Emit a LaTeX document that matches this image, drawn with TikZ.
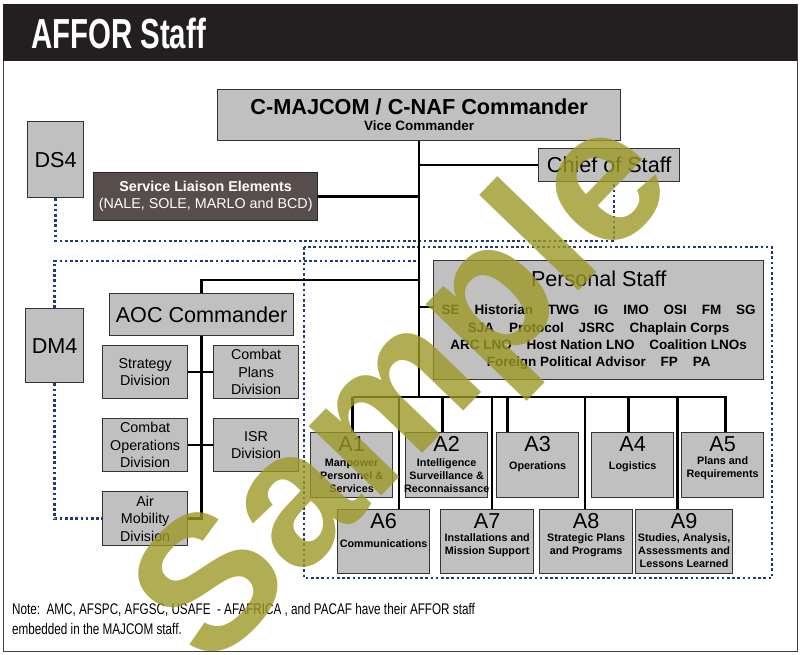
\documentclass[tikz,border=0pt]{standalone}
\usepackage{fontspec}
\setmainfont{Liberation Sans}
\newfontfamily\titlefont{Liberation Sans}[FakeStretch=0.7]
\newfontfamily\notefont{Liberation Sans}[FakeStretch=0.76]
\usepackage{xcolor}
\definecolor{boxgray}{RGB}{192,192,192}
\definecolor{liaison}{RGB}{87,78,75}
\definecolor{navy}{RGB}{30,60,115}
\definecolor{stamp}{RGB}{156,152,39}
\definecolor{barblack}{RGB}{35,31,32}
\usetikzlibrary{positioning,calc}
\newcommand\Anum[1]{{\fontsize{21.6}{13}\selectfont\mdseries #1}}
\newcommand\psgap{\hspace{1.1em}}

\begin{document}
\begin{tikzpicture}[x=1pt, y=-1pt,
  box/.style={draw=black!80, fill=boxgray, line width=1.3pt, inner sep=2pt, align=center, anchor=north west},
  big/.style={font=\fontsize{21.6}{24}\selectfont},
  div/.style={box, minimum width=85, minimum height=53, font=\fontsize{14.3}{17.5}\selectfont},
  abox/.style={box, minimum width=82, minimum height=65},
  anum/.style={label={[anchor=north, align=center, inner sep=0pt, yshift=-4.5pt, font=\fontsize{10.8}{13}\selectfont\bfseries]north:{#1}}},
  link/.style={line width=2.6pt},
  dotline/.style={navy, line width=2.6pt, dash pattern=on 2.6pt off 2.6pt}]
\useasboundingbox (0,0) rectangle (800,654);
\draw[black!75, line width=1pt] (3,4) rectangle (797,651);
\fill[barblack] (3,4) rectangle (797,61);
\node[anchor=base west, inner sep=0pt, text=white, font=\titlefont\bfseries\fontsize{42}{42}\selectfont] (title) at (31,48) {AFFOR Staff};

\node[box, minimum width=403, minimum height=51, font=\fontsize{13.5}{16}\selectfont\bfseries] (cmd) at (217,89) {{\fontsize{21.7}{16}\selectfont C-MAJCOM / C-NAF Commander}\\Vice Commander};
\node[box, big, minimum width=141, minimum height=33] (cos) at (538,148) {Chief of Staff};
\node[box, big, minimum width=56, minimum height=76] (ds4) at (27,121) {DS4};
\node[box, fill=liaison, draw=black!85, text=white, minimum width=224, minimum height=48, font=\fontsize{14.3}{17}\selectfont] (sle) at (93,172) {\textbf{Service Liaison Elements}\\(NALE, SOLE, MARLO and BCD)};
\node[box, big, minimum width=58, minimum height=74] (dm4) at (25,308) {DM4};
\node[box, big, minimum width=184, minimum height=42] (aoc) at (109,293) {AOC Commander};
\node[div] (strat) at (102,345) {Strategy\\Division};
\node[div] (plans) at (213,345) {Combat\\Plans\\Division};
\node[div] (ops) at (102,418) {Combat\\Operations\\Division};
\node[div] (isr) at (213,418) {ISR\\Division};
\node[div, minimum height=54] (air) at (102,491) {Air\\Mobility\\Division};

\node[box, minimum width=330, minimum height=119, font=\fontsize{13.5}{17.3}\selectfont\bfseries] (ps) at (433,260) {{\fontsize{21.6}{17.3}\selectfont\mdseries Personal Staff}\\[11pt]
  SE\psgap Historian\psgap TWG\psgap IG\psgap IMO\psgap OSI\psgap FM\psgap SG\\
  SJA\psgap Protocol\psgap JSRC\psgap Chaplain Corps\\
  ARC LNO\psgap Host Nation LNO\psgap Coalition LNOs\\
  Foreign Political Advisor\psgap FP\psgap PA};

\node[abox, anum={\Anum{A1}\\[1.5pt]Manpower\\Personnel \&\\Services}] (a1) at (310,432) {};
\node[abox, anum={\Anum{A2}\\[1.5pt]Intelligence\\Surveillance \&\\Reconnaissance}] (a2) at (405,432) {};
\node[abox, anum={\Anum{A3}\\[5pt]Operations}] (a3) at (496,432) {};
\node[abox, anum={\Anum{A4}\\[5pt]Logistics}] (a4) at (591,432) {};
\node[abox, anum={\Anum{A5}\\Plans and\\Requirements}] (a5) at (681,432) {};
\node[abox, minimum width=92, minimum height=64, anum={\Anum{A6}\\[6pt]Communications}] (a6) at (337,509) {};
\node[abox, minimum width=93, minimum height=64, anum={\Anum{A7}\\Installations and\\Mission Support}] (a7) at (440,509) {};
\node[abox, minimum width=93, minimum height=64, anum={\Anum{A8}\\Strategic Plans\\and Programs}] (a8) at (539,509) {};
\node[abox, minimum width=97, minimum height=64, anum={\Anum{A9}\\Studies, Analysis,\\Assessments and\\Lessons Learned}] (a9) at (635,509) {};

\node[anchor=north west, inner sep=0pt, align=left, font=\notefont\fontsize{15.4}{20}\selectfont] (note) at (12,603) {Note:\ \ AMC, AFSPC, AFGSC, USAFE\ \ - AFAFRICA , and PACAF have their AFFOR staff\\embedded in the MAJCOM staff.};

\coordinate (dsline) at (0,241);
\coordinate (dmline) at (0,261);
\coordinate (aocin) at (0,280);
\coordinate (psin) at (0,307);
\coordinate (bus) at (0,397);

\draw[dotline] (ds4.south) |- ([xshift=5]cos.south |- dsline) -- ([xshift=5]cos.south);
\draw[dotline] (dm4.north) |- (cmd.south |- dmline);
\draw[dotline] (dm4.south) |- (air.west);
\draw[dotline] (304,247) rectangle (772,578);

\draw[link] (cmd.south) -- (cmd.south |- bus);
\draw[link] (cmd.south |- cos.west) -- (cos.west);
\draw[link] (sle.east) -- (cmd.south |- sle.east);
\draw[link] (cmd.south |- aocin) -| (aoc.north);
\draw[link] (cmd.south |- psin) -- (ps.west |- psin);
\draw[link] (aoc.south) -- (aoc.south |- air.east) -- (air.east);
\draw[link] (strat.east) -- (plans.west);
\draw[link] (ops.east) -- (isr.west);
\draw[link] ([xshift=1]bus -| a1.north) -- ([xshift=4]bus -| a5.north);
\foreach \n/\s in {a1/1,a2/-4,a3/-30,a4/-4,a5/3}
  \draw[link] ([xshift=\s]\n.north |- bus) -- ([xshift=\s]\n.north);
\foreach \l/\r/\d in {a1/a2/a6,a2/a3/a7,a3/a4/a8,a4/a5/a9} {
  \path ($(\l.east)!.5!(\r.west)$) coordinate (gap);
  \draw[link] (gap |- bus) -- (gap |- \d.north);
}

\node[rotate=46, text=stamp, opacity=0.8, inner sep=0pt, font=\bfseries\fontsize{190}{190}\selectfont] (mark) at (410,395) {Sample};
\end{tikzpicture}
\end{document}
